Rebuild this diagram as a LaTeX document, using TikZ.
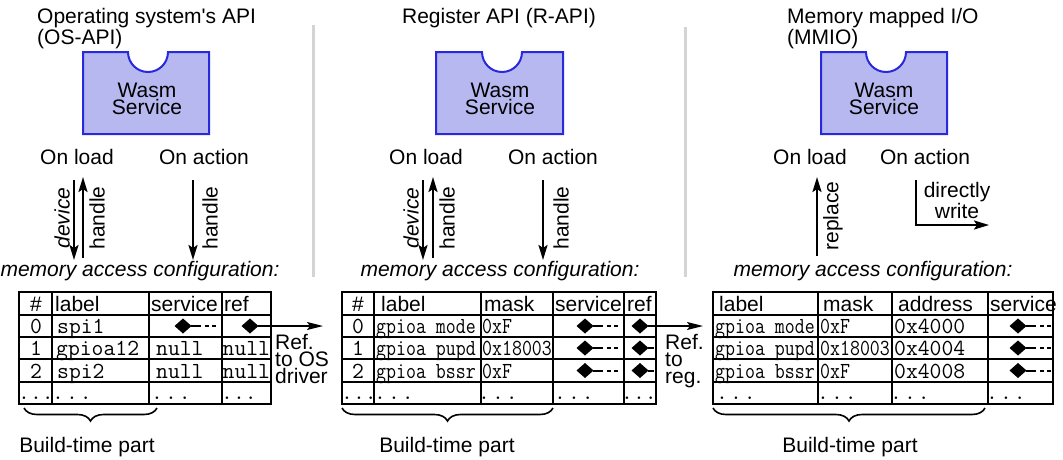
\documentclass[tikz,border=0pt]{standalone}
\usepackage{fontspec}
\setmainfont{Liberation Sans}
\usetikzlibrary{arrows.meta,decorations.pathreplacing}
\definecolor{wasmfill}{RGB}{184,184,240}
\definecolor{wasmline}{RGB}{40,40,220}
\definecolor{sepgray}{RGB}{212,212,212}
\newcommand{\cnd}[1]{\scalebox{0.84}[1]{#1}}
\newcommand{\dts}{.\kern2pt.\kern2pt.}
\newcommand{\ptrd}[1]{\fill (#1) +(-8.5,0) -- +(0,-7.5) -- +(8.5,0) -- +(0,7.5) -- cycle;}

\begin{document}
\begin{tikzpicture}[x=1pt,y=-1pt,
  txt/.style={inner sep=0pt,font=\fontsize{21}{17}\selectfont},
  hdr/.style={txt,anchor=base west},
  mono/.style={inner sep=0pt,anchor=base west,font=\fontsize{23}{20}\ttfamily},
  ptr/.style={shape=coordinate},
  tail/.style={line width=2pt,dash pattern=on 10pt off 4pt on 4pt off 3pt on 4pt off 9pt},
  svc/.style={draw=wasmline,fill=wasmfill,line width=2pt},
  sep/.style={draw=sepgray,line width=3pt},
  arr/.style={line width=2.2pt,-{Stealth[length=15pt,width=9pt,inset=3pt]}},
  refarr/.style={line width=1.6pt,-{Stealth[length=16pt,width=8pt,inset=3pt]}},
  grid/.style={line width=2pt},
  brc/.style={decorate,decoration={brace,amplitude=13pt},line width=1.6pt}]
\def\ra{315};
\def\rb{337};
\def\rc{359};
\def\rd{382};

\useasboundingbox (0,0) rectangle (1063,459);

\draw[sep] (313,25) -- (313,277);
\draw[sep] (685,27) -- (685,277);

\node[hdr] (t1a) at (37,23) {Operating system\textquotesingle s API};
\node[hdr] (t1b) at (37,44) {(OS-API)};
\node[hdr,anchor=base] (t2) at (499,23) {Register API (R-API)};
\node[hdr] (t3a) at (787,23) {Memory mapped I/O};
\node[hdr] (t3b) at (787,44) {(MMIO)};

\draw[svc] (83,52) -- (128,52) arc[start angle=180,end angle=0,radius=20] -- (209,52) -- (209,134) -- (83,134) -- cycle;
\node[txt,align=center,anchor=base] (w1) at (147,114) {Wasm\\Service};
\draw[svc] (436,52) -- (482,52) arc[start angle=180,end angle=0,radius=20] -- (563,52) -- (563,134) -- (436,134) -- cycle;
\node[txt,align=center,anchor=base] (w2) at (500,114) {Wasm\\Service};
\draw[svc] (821,52) -- (866,52) arc[start angle=180,end angle=0,radius=20] -- (947,52) -- (947,134) -- (821,134) -- cycle;
\node[txt,align=center,anchor=base] (w3) at (884,114) {Wasm\\Service};

\node[txt] (ld1) at (77,157) {On load};
\node[txt] (ac1) at (204,157) {On action};
\node[txt] (ld2) at (426,157) {On load};
\node[txt] (ac2) at (553,157) {On action};
\node[txt] (ld3) at (810,157) {On load};
\node[txt] (ac3) at (925,157) {On action};

\coordinate (d1a) at (74,180);
\coordinate (d1b) at (74,260);
\draw[arr] (d1a) -- (d1b);
\node[txt,rotate=90] (dev1) at (62,218) {\itshape device};
\coordinate (h1a) at (83,258);
\coordinate (h1b) at (83,177);
\draw[arr] (h1a) -- (h1b);
\node[txt,rotate=90] (hd1) at (97,218) {handle};
\coordinate (a1a) at (193,180);
\coordinate (a1b) at (193,260);
\draw[arr] (a1a) -- (a1b);
\node[txt,rotate=90] (ha1) at (210,218) {handle};

\coordinate (d2a) at (423,180);
\coordinate (d2b) at (423,260);
\draw[arr] (d2a) -- (d2b);
\node[txt,rotate=90] (dev2) at (411,218) {\itshape device};
\coordinate (h2a) at (433,258);
\coordinate (h2b) at (433,177);
\draw[arr] (h2a) -- (h2b);
\node[txt,rotate=90] (hd2) at (447,218) {handle};
\coordinate (a2a) at (543,180);
\coordinate (a2b) at (543,260);
\draw[arr] (a2a) -- (a2b);
\node[txt,rotate=90] (ha2) at (561,218) {handle};

\coordinate (r3a) at (817,256);
\coordinate (r3b) at (817,177);
\draw[arr] (r3a) -- (r3b);
\node[txt,rotate=90] (rp3) at (833,216) {replace};
\coordinate (w3a) at (916,180);
\coordinate (w3b) at (916,225);
\coordinate (w3c) at (989,225);
\draw[arr] (w3a) -- (w3b) -- (w3c);
\node[txt,align=center,anchor=base] (dw3) at (957,218) {directly\\write};

\node[txt] (mc1) at (140,271) {\itshape memory access configuration:};
\node[txt] (mc2) at (500,271) {\itshape memory access configuration:};
\node[txt] (mc3) at (873,271) {\itshape memory access configuration:};

\draw[grid] (19,292) rectangle (271,404);
\foreach \y in {\ra,\rb,\rc,\rd} \draw[grid] (19,\y) -- (271,\y);
\foreach \x in {52,149,222} \draw[grid] (\x,292) -- (\x,404);
\node[hdr,anchor=base] (h1n) at (36,311) {\#};
\node[hdr] (h1l) at (55,311) {label};
\node[hdr] (h1s) at (151,311) {service};
\node[hdr] (h1r) at (224,311) {ref};
\node[mono,anchor=base] (n10) at (36,333) {0};
\node[mono] (l10) at (57,333) {spi1};
\node[ptr] (s10) at (183,326) {};
\ptrd{s10}
\draw[tail] ([xshift=8pt]s10) -- ++(26,0);
\node[ptr] (p10) at (250,326) {};
\ptrd{p10}
\coordinate (e1) at (323,326);
\draw[refarr] ([xshift=8pt]p10) -- (e1);
\node[mono,anchor=base] (n11) at (36,355) {1};
\node[mono] (l11) at (56,355) {gpioa12};
\node[mono] (s11) at (156,355) {null};
\node[mono] (p11) at (222.5,355) {null};
\node[mono,anchor=base] (n12) at (36,378) {2};
\node[mono] (l12) at (57,378) {spi2};
\node[mono] (s12) at (156,378) {null};
\node[mono] (p12) at (222.5,378) {null};
\node[mono] (n13) at (18,399) {...};
\node[mono] (l13) at (52,399) {\dts};
\node[mono] (s13) at (151,399) {\dts};
\node[mono] (p13) at (221,399) {...};
\node[txt,align=left,anchor=base west] (rf1) at (275,383) {Ref.\\to OS\\driver};
\coordinate (b1r) at (157,408);
\coordinate (b1l) at (24,408);
\draw[brc] (b1r) -- (b1l);
\node[txt] (bt1) at (87,447) {Build-time part};

\draw[grid] (342,292) rectangle (656,404);
\foreach \y in {\ra,\rb,\rc,\rd} \draw[grid] (342,\y) -- (656,\y);
\foreach \x in {374,481,553,624} \draw[grid] (\x,292) -- (\x,404);
\node[hdr,anchor=base] (h2n) at (358,311) {\#};
\node[hdr] (h2l) at (381,311) {label};
\node[hdr] (h2m) at (484,311) {mask};
\node[hdr] (h2s) at (555,311) {service};
\node[hdr] (h2r) at (627,311) {ref};
\node[mono,anchor=base] (n20) at (358,333) {0};
\node[mono] (l20) at (376,333) {\cnd{gpioa\_mode}};
\node[mono] (m20) at (482,333) {\cnd{0xF}};
\node[ptr] (s20) at (585,326) {};
\ptrd{s20}
\draw[tail] ([xshift=8pt]s20) -- ++(26,0);
\node[ptr] (p20) at (640,326) {};
\ptrd{p20}
\coordinate (e2) at (703,326);
\draw[refarr] ([xshift=8pt]p20) -- (e2);
\node[mono,anchor=base] (n21) at (358,355) {1};
\node[mono] (l21) at (376,355) {\cnd{gpioa\_pupd}};
\node[mono] (m21) at (482,355) {\cnd{0x18003}};
\node[ptr] (s21) at (585,348) {};
\ptrd{s21}
\draw[tail] ([xshift=8pt]s21) -- ++(26,0);
\node[ptr] (p21) at (640,348) {};
\ptrd{p21}
\draw[line width=2pt] ([xshift=8pt]p21) -- ++(6,0);
\node[mono,anchor=base] (n22) at (358,378) {2};
\node[mono] (l22) at (376,378) {\cnd{gpioa\_bssr}};
\node[mono] (m22) at (482,378) {\cnd{0xF}};
\node[ptr] (s22) at (585,370.5) {};
\ptrd{s22}
\draw[tail] ([xshift=8pt]s22) -- ++(26,0);
\node[ptr] (p22) at (640,370.5) {};
\ptrd{p22}
\draw[line width=2pt] ([xshift=8pt]p22) -- ++(6,0);
\node[mono] (n23) at (341,399) {...};
\node[mono] (l23) at (374,399) {\dts};
\node[mono] (m23) at (478,399) {\dts};
\node[mono] (s23) at (554,399) {\dts};
\node[mono] (p23) at (621,399) {...};
\node[txt,align=left,anchor=base west] (rf2) at (665,383) {Ref.\\to\\reg.};
\coordinate (b2r) at (553,408);
\coordinate (b2l) at (342,408);
\draw[brc] (b2r) -- (b2l);
\node[txt] (bt2) at (447,447) {Build-time part};

\draw[grid] (713,292) rectangle (1053,404);
\foreach \y in {\ra,\rb,\rc,\rd} \draw[grid] (713,\y) -- (1053,\y);
\foreach \x in {818,892,988} \draw[grid] (\x,292) -- (\x,404);
\node[hdr] (h3l) at (719,311) {label};
\node[hdr] (h3m) at (823,311) {mask};
\node[hdr] (h3a) at (898,311) {address};
\node[hdr] (h3s) at (990,311) {service};
\node[mono] (l30) at (715,333) {\cnd{gpioa\_mode}};
\node[mono] (m30) at (820,333) {\cnd{0xF}};
\node[mono] (a30) at (894,333) {0x4000};
\node[ptr] (s30) at (1018,326) {};
\ptrd{s30}
\draw[tail] ([xshift=8pt]s30) -- ++(26,0);
\node[mono] (l31) at (715,355) {\cnd{gpioa\_pupd}};
\node[mono] (m31) at (820,355) {\cnd{0x18003}};
\node[mono] (a31) at (894,355) {0x4004};
\node[ptr] (s31) at (1018,348) {};
\ptrd{s31}
\draw[tail] ([xshift=8pt]s31) -- ++(26,0);
\node[mono] (l32) at (715,378) {\cnd{gpioa\_bssr}};
\node[mono] (m32) at (820,378) {\cnd{0xF}};
\node[mono] (a32) at (894,378) {0x4008};
\node[ptr] (s32) at (1018,370.5) {};
\ptrd{s32}
\draw[tail] ([xshift=8pt]s32) -- ++(26,0);
\node[mono] (l33) at (716,399) {\dts};
\node[mono] (m33) at (817,399) {\dts};
\node[mono] (a33) at (890,399) {\dts};
\node[mono] (s33) at (986,399) {\dts};
\coordinate (b3r) at (985,408);
\coordinate (b3l) at (713,408);
\draw[brc] (b3r) -- (b3l);
\node[txt] (bt3) at (850,447) {Build-time part};
\end{tikzpicture}
\end{document}
